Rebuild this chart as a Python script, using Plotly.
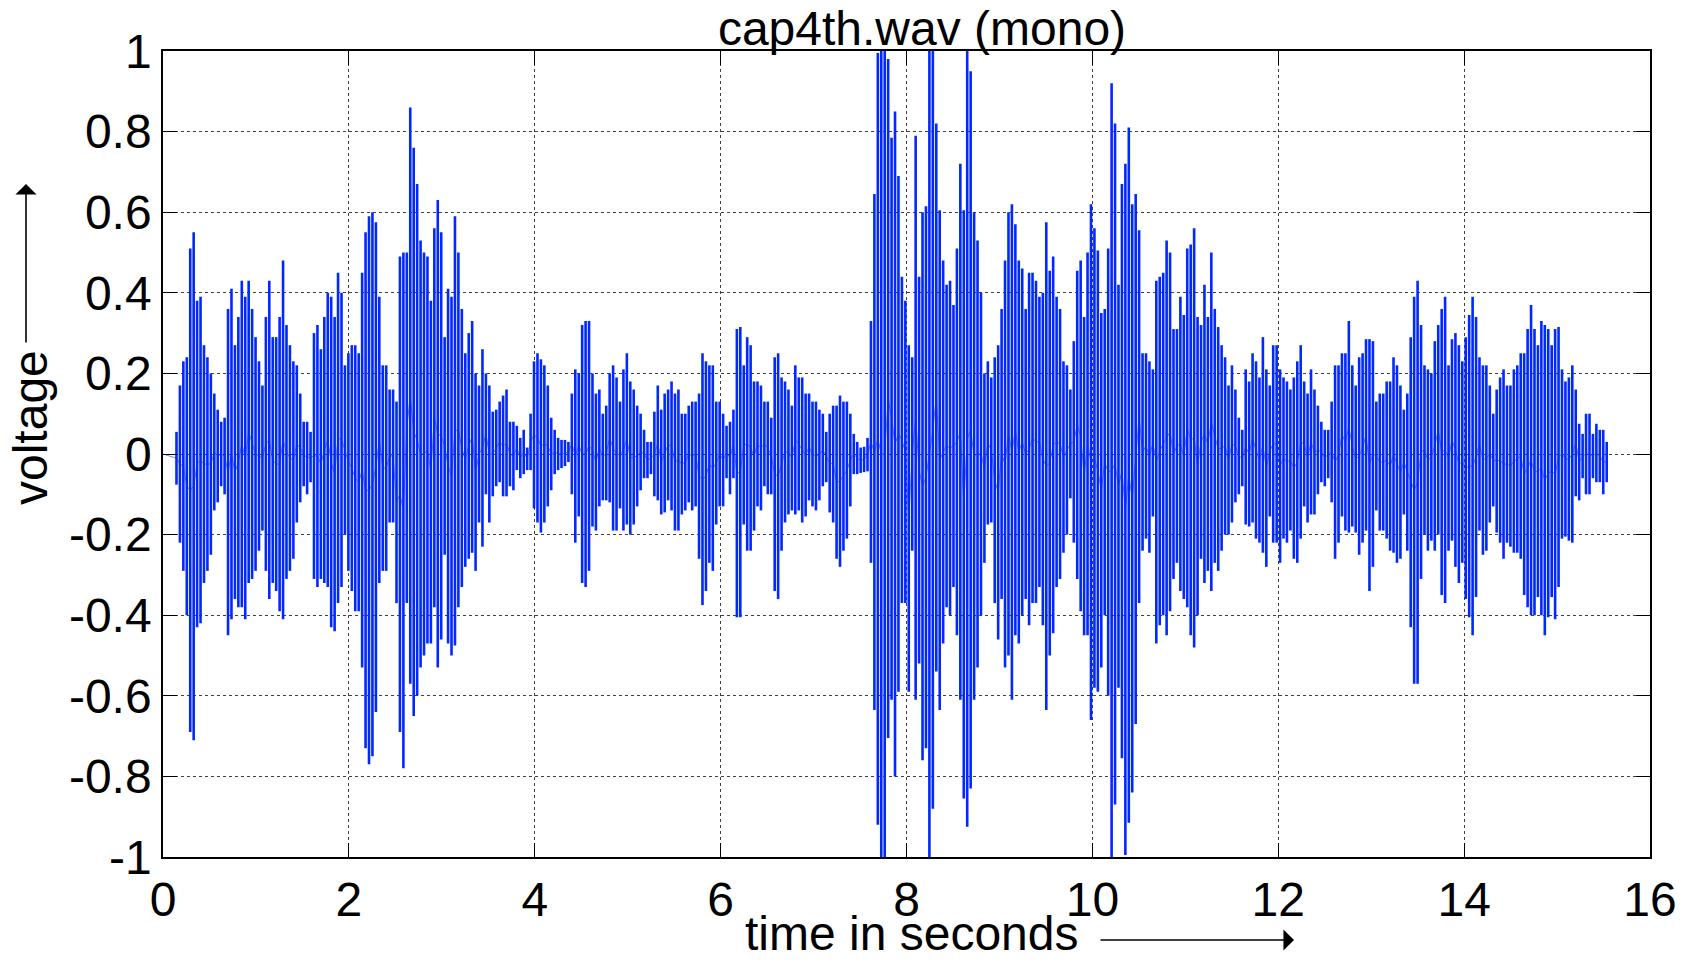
import plotly.graph_objects as go

# ---- data: per-stroke upper / lower peaks of the waveform ----
upper_a = [0.055,0.17,0.23,0.24,0.51,0.55,0.38,0.39,0.27,0.24, 0.20,0.15,0.11,0.08,0.09,0.36,0.41,0.27,0.34,0.43,
           0.39,0.43,0.36,0.29,0.23,0.17,0.34,0.43,0.29,0.29, 0.34,0.48,0.32,0.27,0.23,0.22,0.15,0.08,0.08,0.055,
           0.30,0.32,0.26,0.34,0.40,0.39,0.34,0.45,0.40,0.22, 0.25,0.27,0.27,0.25,0.45,0.55,0.59,0.60,0.575,0.39,
           0.22,0.22,0.16,0.16,0.13,0.49,0.50,0.50,0.86]
lower_a = [-0.076,-0.22,-0.29,-0.40,-0.69,-0.71,-0.43,-0.42,-0.32,-0.29, -0.25,-0.14,-0.12,-0.08,-0.10,-0.45,-0.41,-0.36,-0.38,-0.38,
           -0.41,-0.32,-0.31,-0.29,-0.24,-0.19,-0.29,-0.36,-0.32,-0.34, -0.39,-0.41,-0.31,-0.29,-0.26,-0.17,-0.12,-0.08,-0.10,-0.07,
           -0.31,-0.33,-0.31,-0.32,-0.33,-0.43,-0.44,-0.37,-0.33,-0.20, -0.29,-0.34,-0.39,-0.39,-0.53,-0.73,-0.77,-0.75,-0.64,-0.32,
           -0.29,-0.29,-0.17,-0.17,-0.37,-0.69,-0.78,-0.37,-0.57]

upper_b = [0.76,0.67,0.53,0.50,0.49,0.38,0.56,0.63,0.55,0.29, 0.41,0.39,0.59,0.50,0.36,0.25,0.30,0.33,0.20,0.17,
           0.26,0.20,0.17,0.105,0.11,0.13,0.145,0.16,0.08,0.08, 0.07,0.04,0.06,0.016,0.10,0.23,0.25,0.235,0.22,0.17,
           0.09,0.06,0.04,0.035,0.035,0.03,0.15,0.21,0.20,0.32, 0.33,0.33,0.20,0.15,0.16,0.10,0.12,0.20,0.22,0.19,
           0.13,0.21,0.25,0.18,0.16,0.12,0.10,0.06,0.03,0.03, 0.105]
lower_b = [-0.65,-0.60,-0.53,-0.50,-0.47,-0.47,-0.38,-0.53,-0.46,-0.25, -0.47,-0.50,-0.475,-0.38,-0.33,-0.28,-0.26,-0.245,-0.29,-0.17,
           -0.23,-0.10,-0.17,-0.105,-0.08,-0.07,-0.105,-0.105,-0.08,-0.09, -0.04,-0.06,-0.05,-0.04,-0.04,-0.135,-0.17,-0.195,-0.17,-0.13,
           -0.09,-0.05,-0.04,-0.035,-0.03,-0.02,-0.10,-0.22,-0.155,-0.32, -0.33,-0.29,-0.18,-0.19,-0.13,-0.115,-0.115,-0.12,-0.19,-0.19,
           -0.135,-0.19,-0.175,-0.20,-0.175,-0.13,-0.09,-0.06,-0.06,-0.05, -0.105]

upper_c = [0.17,0.11,0.15,0.16,0.18,0.15,0.16,0.10,0.10,0.12, 0.13,0.13,0.15,0.25,0.23,0.22,0.22,0.13,0.13,0.10,
           0.07,0.08,0.11,0.31,0.315,0.22,0.29,0.27,0.18,0.18, 0.17,0.13,0.13,0.09,0.24,0.25,0.19,0.18,0.16,0.12,
           0.22,0.19,0.19,0.15,0.15,0.13,0.13,0.11,0.10,0.055, 0.10,0.12,0.12,0.145,0.13,0.13,0.10,0.05,0.03,0.016,
           0.018,0.04,0.33,0.645,0.995,1.0,1.0,0.98,0.785,0.85, 0.69,0.44]
lower_c = [-0.115,-0.15,-0.145,-0.115,-0.14,-0.19,-0.19,-0.15,-0.14,-0.12, -0.14,-0.13,-0.26,-0.375,-0.34,-0.27,-0.29,-0.175,-0.13,-0.13,
           -0.06,-0.10,-0.06,-0.405,-0.405,-0.175,-0.24,-0.24,-0.19,-0.13, -0.14,-0.08,-0.10,-0.10,-0.34,-0.36,-0.24,-0.17,-0.15,-0.14,
           -0.15,-0.14,-0.17,-0.155,-0.115,-0.13,-0.14,-0.115,-0.08,-0.07, -0.145,-0.17,-0.26,-0.28,-0.24,-0.21,-0.13,-0.05,-0.05,-0.047,
           -0.045,-0.043,-0.27,-0.635,-0.92,-1.0,-1.0,-0.705,-0.61,-0.80, -0.59,-0.37]

upper_d = [0.38,0.27,0.24,0.79,0.44,0.60,0.615,1.0,1.0,0.82, 0.605,0.48,0.42,0.43,0.37,0.51,0.72,0.605,1.0,0.95,
           0.60,0.53,0.40,0.20,0.23,0.19,0.24,0.27,0.36,0.48, 0.60,0.62,0.57,0.48,0.46,0.36,0.45,0.45,0.43,0.39,
           0.40,0.575,0.455,0.49,0.39,0.36,0.23,0.22,0.16,0.28, 0.455,0.48,0.34,0.50,0.62,0.56,0.505,0.35,0.36,0.51,
           0.92,0.82,0.42,0.67,0.72,0.81,0.62,0.645,0.555,0.25, 0.25]
lower_d = [-0.37,-0.59,-0.24,-0.61,-0.52,-0.76,-0.73,-1.0,-0.88,-0.54, -0.635,-0.47,-0.38,-0.40,-0.33,-0.45,-0.61,-0.855,-0.925,-0.83,
           -0.61,-0.53,-0.40,-0.27,-0.175,-0.17,-0.37,-0.46,-0.36,-0.53, -0.50,-0.61,-0.45,-0.47,-0.40,-0.36,-0.425,-0.37,-0.37,-0.33,
           -0.425,-0.635,-0.50,-0.445,-0.33,-0.31,-0.245,-0.20,-0.11,-0.22, -0.31,-0.39,-0.45,-0.45,-0.66,-0.58,-0.59,-0.53,-0.40,-0.60,
           -1.0,-0.87,-0.58,-0.755,-0.995,-0.915,-0.84,-0.67,-0.37,-0.24, -0.21]

upper_e = [0.23,0.21,0.43,0.44,0.45,0.53,0.50,0.31,0.31,0.39, 0.345,0.51,0.52,0.56,0.34,0.32,0.42,0.34,0.50,0.36,
           0.315,0.27,0.24,0.17,0.22,0.16,0.09,0.06,0.21,0.18, 0.25,0.23,0.19,0.29,0.21,0.17,0.27,0.27,0.21,0.19,
           0.18,0.16,0.19,0.23,0.27,0.18,0.15,0.21,0.16,0.12, 0.08,0.06,0.06,0.13,0.22,0.22,0.25,0.25,0.33,0.22,
           0.17,0.24,0.25,0.285,0.285,0.28,0.13,0.15,0.15,0.18, 0.18]
lower_e = [-0.245,-0.155,-0.47,-0.425,-0.40,-0.45,-0.39,-0.31,-0.27,-0.34, -0.36,-0.38,-0.45,-0.48,-0.40,-0.26,-0.32,-0.29,-0.34,-0.27,
           -0.29,-0.24,-0.20,-0.20,-0.17,-0.12,-0.10,-0.08,-0.175,-0.18, -0.17,-0.21,-0.22,-0.245,-0.28,-0.155,-0.22,-0.22,-0.27,-0.21,
           -0.22,-0.19,-0.26,-0.27,-0.21,-0.13,-0.17,-0.15,-0.15,-0.10, -0.07,-0.08,-0.06,-0.12,-0.26,-0.22,-0.155,-0.19,-0.195,-0.18,
           -0.195,-0.25,-0.22,-0.19,-0.34,-0.28,-0.14,-0.19,-0.19,-0.21, -0.24]

upper_f = [0.24,0.22,0.17,0.11,0.15,0.29,0.39,0.43,0.32,0.22, 0.21,0.20,0.28,0.32,0.36,0.39,0.22,0.285,0.30,0.27,
           0.23,0.29,0.345,0.39,0.34,0.24,0.22,0.22,0.17,0.10, 0.16,0.19,0.21,0.17,0.17,0.21,0.22,0.25,0.25,0.31,
           0.37,0.31,0.27,0.33,0.32,0.31,0.27,0.31,0.315,0.21, 0.18,0.19,0.22,0.16,0.075,0.05,0.10,0.10,0.05,0.075,
           0.06,0.06,0.03]
lower_f = [-0.245,-0.27,-0.26,-0.15,-0.24,-0.43,-0.57,-0.57,-0.31,-0.20, -0.24,-0.215,-0.24,-0.20,-0.35,-0.37,-0.24,-0.215,-0.28,-0.32,
           -0.27,-0.36,-0.405,-0.45,-0.355,-0.19,-0.25,-0.24,-0.17,-0.13, -0.195,-0.22,-0.26,-0.22,-0.23,-0.245,-0.245,-0.26,-0.35,-0.38,
           -0.40,-0.40,-0.355,-0.40,-0.45,-0.405,-0.355,-0.41,-0.33,-0.21, -0.205,-0.215,-0.22,-0.105,-0.115,-0.06,-0.10,-0.10,-0.06,-0.07,
           -0.07,-0.10,-0.07]

t_first = 0.145     # seconds, first stroke
t_last = 15.534     # seconds, last stroke
x_ticks = [0, 2, 4, 6, 8, 10, 12, 14, 16]
y_ticks = [-1, -0.8, -0.6, -0.4, -0.2, 0, 0.2, 0.4, 0.6, 0.8, 1]
y_tick_text = ["-1", "-0.8", "-0.6", "-0.4", "-0.2", "0", "0.2", "0.4", "0.6", "0.8", "1"]

upper = upper_a + upper_b + upper_c + upper_d + upper_e + upper_f
lower = lower_a + lower_b + lower_c + lower_d + lower_e + lower_f
n = min(len(upper), len(lower))
dt = (t_last - t_first) / (n - 1)
times = [t_first + i * dt for i in range(n)]

bx, by = [], []
for i in range(n):
    bx += [times[i], times[i], None]
    by += [upper[i], lower[i], None]

mx = [0.0] + times
my = [0.0] + [(upper[i] + lower[i]) / 2 for i in range(n)]

BLUE = "rgb(0,40,255)"
FONT = "Liberation Sans, Arial, Helvetica, sans-serif"
FS = 48

fig = go.Figure()
fig.add_trace(go.Scatter(x=mx, y=my, mode="lines",
                         line=dict(color="rgba(0,40,255,0.55)", width=1),
                         hoverinfo="skip", showlegend=False))
fig.add_trace(go.Scatter(x=bx, y=by, mode="lines",
                         line=dict(color=BLUE, width=2.6),
                         connectgaps=False, showlegend=False))

L, R, T, B = 163, 48, 51, 103
W, H = 1698, 960
pw, ph = W - L - R, H - T - B

def px(xp):
    return (xp - L) / pw

def py(yp):
    return (H - B - yp) / ph

axis_common = dict(showline=True, linecolor="black", linewidth=1.5, mirror="ticks",
                   ticks="inside", ticklen=14, tickcolor="black", tickwidth=1,
                   showgrid=True, gridcolor="rgba(0,0,0,0.75)", gridwidth=1, griddash="dot",
                   zeroline=False, tickfont=dict(family=FONT, size=FS, color="black"))

fig.update_layout(
    width=W, height=H,
    margin=dict(l=L, r=R, t=T, b=B),
    paper_bgcolor="white", plot_bgcolor="white",
    title=dict(text="cap4th.wav (mono)", x=922 / W, xref="container", xanchor="center",
               y=1 - 28 / H, yref="container", yanchor="middle",
               font=dict(family=FONT, size=FS, color="black")),
    xaxis=dict(range=[0, 16], tickvals=x_ticks, ticktext=[str(v) for v in x_ticks],
               ticklabelstandoff=0, **axis_common),
    yaxis=dict(range=[-1, 1], tickvals=y_ticks, ticktext=y_tick_text,
               ticklabelstandoff=0, **axis_common),
    showlegend=False,
)

fig.add_annotation(text="time in seconds", xref="paper", yref="paper",
                   x=px(912), y=py(933), xanchor="center", yanchor="middle", borderpad=0,
                   showarrow=False, font=dict(family=FONT, size=FS, color="black"))
fig.add_annotation(text="", xref="paper", yref="paper", x=px(1294), y=py(940),
                   ax=-195, ay=0, axref="pixel", ayref="pixel",
                   showarrow=True, arrowhead=1, arrowsize=2.2, arrowwidth=1.6, arrowcolor="black")
fig.add_annotation(text="voltage", xref="paper", yref="paper",
                   x=px(30), y=py(428), xanchor="center", yanchor="middle", textangle=-90,
                   showarrow=False, font=dict(family=FONT, size=FS, color="black"))
fig.add_annotation(text="", xref="paper", yref="paper", x=px(26), y=py(184),
                   ax=0, ay=160, axref="pixel", ayref="pixel",
                   showarrow=True, arrowhead=1, arrowsize=2.2, arrowwidth=1.6, arrowcolor="black")

fig.write_html("out.html")
